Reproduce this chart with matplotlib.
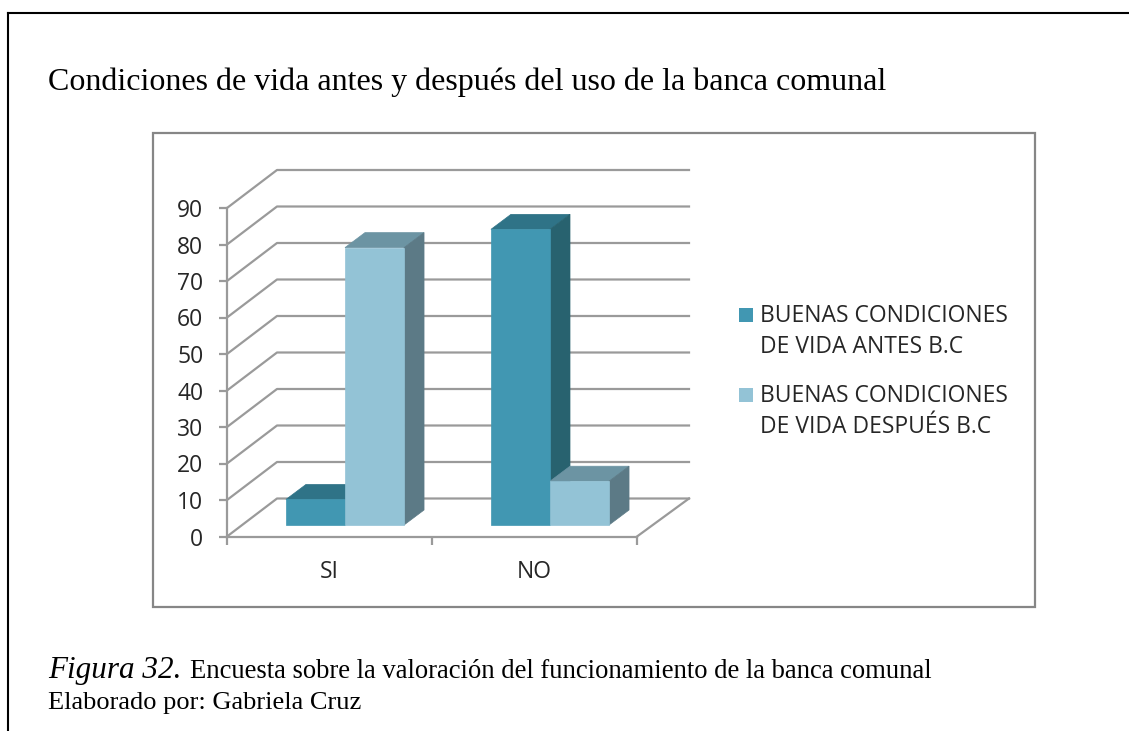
import matplotlib
matplotlib.use("Agg")
import matplotlib.pyplot as plt
from matplotlib.patches import Polygon, Rectangle
from matplotlib.transforms import IdentityTransform

W, H = 1129, 731

categories = ["SI", "NO"]
antes = [7, 81]
despues = [76, 12]
y_ticks = [0, 10, 20, 30, 40, 50, 60, 70, 80, 90]
series_names = [["BUENAS CONDICIONES", "DE VIDA ANTES B.C"], ["BUENAS CONDICIONES", "DE VIDA DESPUÉS B.C"]]

title = "Condiciones de vida antes y después del uso de la banca comunal"
fig_label = "Figura 32."
caption = "Encuesta sobre la valoración del funcionamiento de la banca comunal"
author = "Elaborado por: Gabriela Cruz"

GRID = "#9a9a9a"
DARK = ("#4197b2", "#2f7387", "#28626f")  # front, top, side
LIGHT = ("#93c3d6", "#6c94a3", "#5c7a86")
SANS = "Open Sans"
SERIF = "Liberation Serif"
TXT = "#262626"


def fx(x):
    return x / W


def fy(y):
    return 1 - y / H


fig = plt.figure(figsize=(W / 100, H / 100), dpi=100)

# page frame, only left and top
for xs, ys in [((7.5, 7.5), (731, 12.5)), ((7.5, 1129), (12.5, 12.5))]:
    fig.add_artist(plt.Line2D([fx(v) for v in xs], [fy(v) for v in ys], color="black", lw=1.5))

# chart box
fig.add_artist(Rectangle((fx(153), fy(607)), 882 / W, 474 / H, transform=fig.transFigure,
                         fill=False, edgecolor="#868686", lw=1.6))

fig.text(fx(48), fy(90), title, family=SERIF, fontsize=23.05, color="black")
fig.text(fx(48), fy(678), fig_label, family=SERIF, style="italic", fontsize=22.4, color="black")
fig.text(fx(190), fy(678), caption, family=SERIF, fontsize=19.2, color="black")
fig.text(fx(48), fy(709), author, family=SERIF, fontsize=19.0, color="black")

# front plane of the 3D box
ax = fig.add_axes([fx(227), fy(536.5), 410 / W, 328.5 / H])
ax.set_xlim(0, 2)
ax.set_ylim(0, 90)
ax.patch.set_visible(False)
for s in ["top", "right"]:
    ax.spines[s].set_visible(False)
for s in ["left", "bottom"]:
    ax.spines[s].set_color(GRID)
    ax.spines[s].set_linewidth(1.6)
ax.set_yticks(y_ticks)
ax.set_xticks([0, 1, 2])
ax.set_xticklabels([])
ax.tick_params(axis="both", color=GRID, width=1.6, length=6)
ax.tick_params(axis="y", labelsize=16.5, labelcolor=TXT, pad=11)
for lab in ax.get_yticklabels():
    lab.set_family(SANS)
for i, c in enumerate(categories):
    ax.text(i + 0.5, -9.8, c, ha="center", va="center", family=SANS, fontsize=16.5, color=TXT)

fig.canvas.draw()


def px(x, v, dx=0, dy=0):
    a = ax.transData.transform((x, v))
    return (a[0] + dx, a[1] + dy)


def line(pts):
    ax.plot([p[0] for p in pts], [p[1] for p in pts], color=GRID, lw=1.6,
            transform=IdentityTransform(), clip_on=False, zorder=1)


# walls and gridlines
for v in y_ticks:
    line([px(0, v), px(0, v, 50, 38), px(2, v, 52, 38)])
line([px(2, 0), px(2, 0, 52, 38)])

# bars, in data units, shifted onto the floor and given depth
bar_w = 0.288
floor_dx = 15.5
floor_dy = 11.5
depth_dx = 20
depth_dy = 15


def bar3d(x0, v, cols):
    x1 = x0 + bar_w
    a = px(x0, v, floor_dx, floor_dy)
    b = px(x1, v, floor_dx, floor_dy)
    c = px(x1, 0, floor_dx, floor_dy)
    d = px(x0, 0, floor_dx, floor_dy)
    top = [a, b, (b[0] + depth_dx, b[1] + depth_dy), (a[0] + depth_dx, a[1] + depth_dy)]
    side = [b, c, (c[0] + depth_dx, c[1] + depth_dy), (b[0] + depth_dx, b[1] + depth_dy)]
    for pts, col in [(top, cols[1]), (side, cols[2]), ([a, b, c, d], cols[0])]:
        ax.add_patch(Polygon(pts, closed=True, facecolor=col, edgecolor=col, lw=0.5,
                             transform=IdentityTransform(), clip_on=False, zorder=2))


for i in range(len(categories)):
    bar3d(i + 0.5 - bar_w, antes[i], DARK)
    bar3d(i + 0.5, despues[i], LIGHT)

# legend, built by hand so the swatch sits on the first text line
for names, col, y0 in [(series_names[0], DARK[0], 322), (series_names[1], LIGHT[0], 402)]:
    fig.add_artist(Rectangle((fx(739), fy(y0)), 14 / W, 14 / H, transform=fig.transFigure,
                             facecolor=col, edgecolor="none"))
    fig.text(fx(760), fy(y0), names[0], family=SANS, fontsize=16.5, color=TXT)
    fig.text(fx(760), fy(y0 + 31), names[1], family=SANS, fontsize=16.5, color=TXT)

fig.savefig("out.png", dpi=100)
